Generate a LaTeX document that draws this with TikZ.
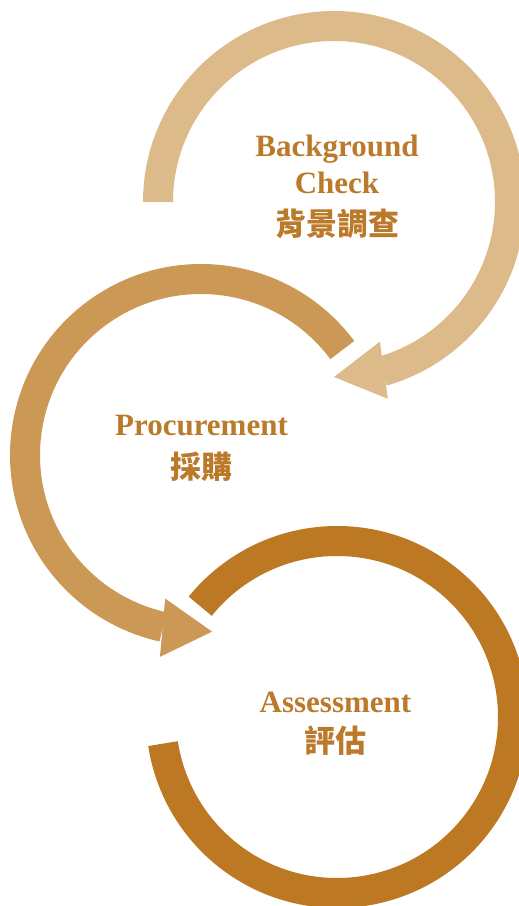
\documentclass[tikz,border=0pt]{standalone}
\usepackage{fontspec}
\setmainfont{Liberation Serif}
\newfontfamily\cjk{Noto Sans CJK TC}
\usetikzlibrary{calc}
\definecolor{checkcol}{HTML}{DDBA8A}
\definecolor{proccol}{HTML}{CC9855}
\definecolor{assesscol}{HTML}{BD7824}
\definecolor{textcol}{HTML}{BA7A2A}

\begin{document}
\begin{tikzpicture}[x = 1pt, y = 1pt,
	ring/.style = {line width = 30pt},
	steptext/.style = {text = textcol, font = \fontsize{31}{37}\selectfont\bfseries, anchor = base, inner sep = 0pt}]
	\useasboundingbox (0,0) rectangle (519,906);
	\coordinate (check) at (334,704);
	\coordinate (proc) at (201,451);
	\coordinate (assess) at (337,189);
	% background check
	\draw [ring, color = checkcol] ($(check)+(180:176)$) arc [start angle = 180, end angle = -74, radius = 176];
	\fill [checkcol] ($(check)+(-71.8:147)$) -- ($(check)+(-90:175)$) -- ($(check)+(-74.7:204)$) -- cycle;
	% procurement
	\draw [ring, color = proccol] ($(proc)+(36.6:176)$) arc [start angle = 36.6, end angle = 257.5, radius = 176];
	\fill [proccol] ($(proc)+(256:148)$) -- ($(proc)+(273.6:177)$) -- ($(proc)+(258.5:206)$) -- cycle;
	% assessment
	\draw [ring, color = assesscol] ($(assess)+(141:176)$) arc [start angle = 141, end angle = -171.3, radius = 176];
	% labels
	\node [steptext] (checken) at (337,749) {Background};
	\node [steptext] (checkword) at (337,712) {Check};
	\node [steptext] (checkzh) at (337,670) {\cjk 背景調查};
	\node [steptext] (procen) at (201.5,470) {Procurement};
	\node [steptext] (proczh) at (201.5,427) {\cjk 採購};
	\node [steptext] (assessen) at (335.5,193) {Assessment};
	\node [steptext] (assesszh) at (335.5,153) {\cjk 評估};
\end{tikzpicture}
\end{document}
